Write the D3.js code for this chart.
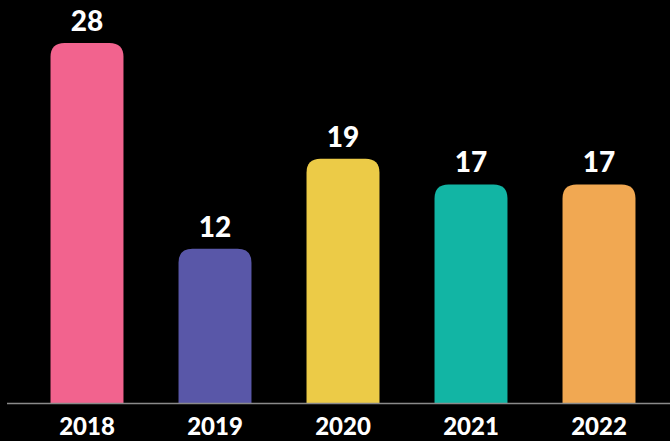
<!DOCTYPE html>
<html><head><meta charset="utf-8">
<script src="https://cdn.jsdelivr.net/npm/d3@7"></script>
<style>html,body{margin:0;padding:0;background:#000;}svg{display:block;}</style>
</head><body>
<svg id="c" width="670" height="441"></svg>
<script>
const categories = ["2018","2019","2020","2021","2022"];
const values = [28,12,19,17,17];
const colors = ["#F2638E","#5957A8","#ECCB47","#12B5A4","#F1A852"];

const svg = d3.select("#c");
svg.append("rect").attr("width",670).attr("height",441).attr("fill","#000");
const baseY = 403;
const x = d3.scaleBand().domain(categories).range([23,663]).paddingInner(0.43).paddingOuter(0.215);
const y = d3.scaleLinear().domain([0,28]).range([baseY,43]);
const r = 14;

function barPath(x0,w,yt,yb){
  const rr = Math.min(r,(yb-yt));
  return `M${x0},${yb}V${yt+rr}Q${x0},${yt} ${x0+rr},${yt}H${x0+w-rr}Q${x0+w},${yt} ${x0+w},${yt+rr}V${yb}Z`;
}
svg.selectAll("path.bar").data(values).enter().append("path").attr("class","bar")
  .attr("d",(d,i)=>barPath(x(categories[i]),x.bandwidth(),y(d),baseY))
  .attr("fill",(d,i)=>colors[i]);

svg.append("line").attr("x1",7).attr("x2",670).attr("y1",baseY+0.5).attr("y2",baseY+0.5)
  .attr("stroke","#8a8a8a").attr("stroke-width",1.5);

svg.selectAll("text.val").data(values).enter().append("text").attr("class","val")
  .attr("x",(d,i)=>x(categories[i])+x.bandwidth()/2).attr("y",d=>y(d)-12)
  .attr("text-anchor","middle").attr("fill","#fff")
  .style("font-family","Lato").style("font-weight",900).style("font-size","28px")
  .text(d=>d);

svg.selectAll("text.cat").data(categories).enter().append("text").attr("class","cat")
  .attr("x",d=>x(d)+x.bandwidth()/2).attr("y",435)
  .attr("text-anchor","middle").attr("fill","#fff")
  .style("font-family","Lato").style("font-weight",900).style("font-size","24px")
  .text(d=>d);
</script>
</body></html>
